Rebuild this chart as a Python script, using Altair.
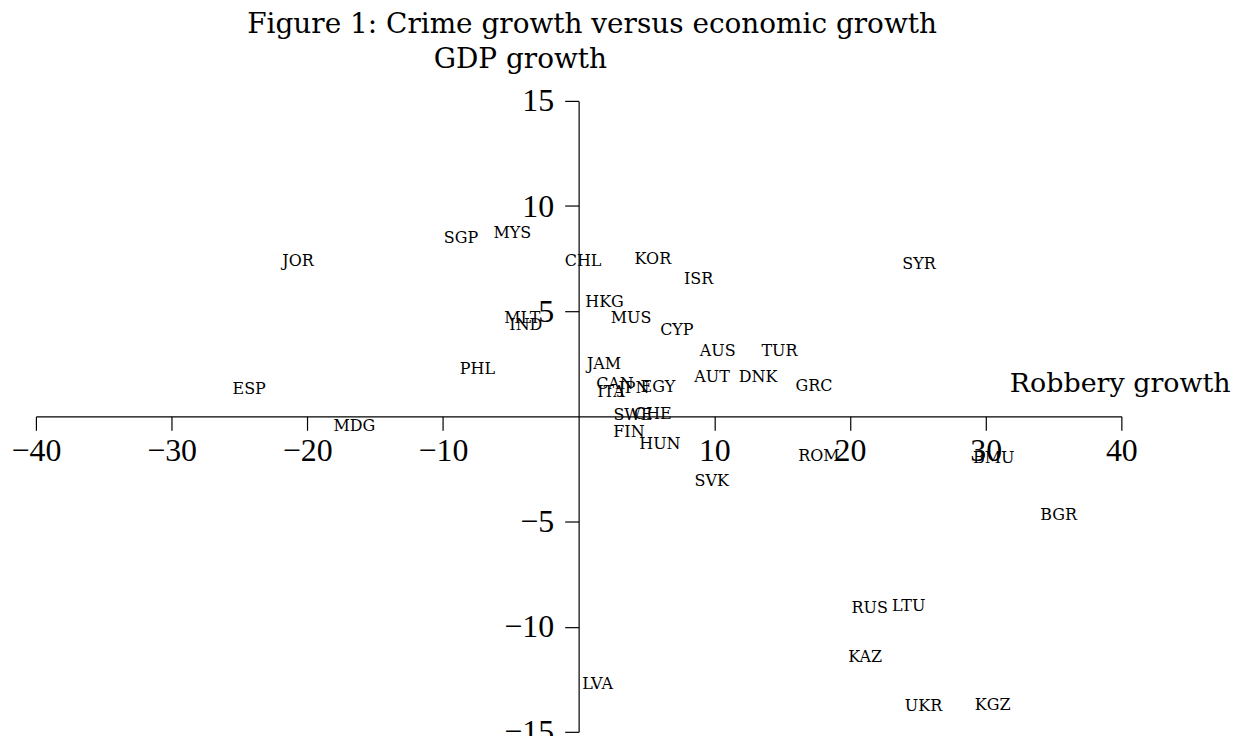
import altair as alt
import pandas as pd

# ---- data ----
codes = ["ESP", "JOR", "SGP", "MYS", "PHL", "MLT", "IND", "MDG", "LVA", "CHL",
         "KOR", "ISR", "HKG", "MUS", "CYP", "AUS", "TUR", "AUT", "DNK", "GRC",
         "JAM", "CAN", "ITA", "JPN", "EGY", "SWE", "CHE", "FIN", "HUN", "SVK",
         "ROM", "BMU", "BGR", "SYR", "RUS", "LTU", "KAZ", "UKR", "KGZ"]
robbery_growth = [-24.28, -20.68, -8.67, -4.89, -7.46, -4.15, -3.89, -16.53, 1.40, 0.33,
                  5.47, 8.84, 1.91, 3.86, 7.24, 10.25, 14.80, 9.84, 13.22, 17.35,
                  1.87, 2.68, 2.39, 4.08, 5.84, 4.00, 5.47, 3.71, 5.99, 9.81,
                  17.71, 30.60, 35.37, 25.09, 21.45, 24.33, 21.11, 25.42, 30.52]
gdp_growth = [1.30, 7.37, 8.48, 8.74, 2.25, 4.67, 4.34, -0.47, -12.75, 7.37,
              7.46, 6.53, 5.44, 4.69, 4.10, 3.12, 3.12, 1.87, 1.85, 1.45,
              2.49, 1.54, 1.16, 1.35, 1.40, 0.07, 0.12, -0.73, -1.30, -3.06,
              -1.87, -1.97, -4.67, 7.23, -9.10, -9.03, -11.42, -13.79, -13.74]

x_ticks = [-40, -30, -20, -10, 10, 20, 30, 40]
y_ticks = [-15, -10, -5, 5, 10, 15]

title_text = "Figure 1: Crime growth versus economic growth"
y_title = "GDP growth"
x_title = "Robbery growth"

W, H = 1089, 633

df = pd.DataFrame({"code": codes, "robbery": robbery_growth, "gdp": gdp_growth})

x_axis = alt.Axis(values=x_ticks, offset=-H / 2, tickSize=14, tickWidth=1.2,
                  domainWidth=1.2, domainColor="black", tickColor="black",
                  labelColor="black", labelFont="Liberation Serif", labelFontSize=32,
                  labelPadding=5, labelFlush=False, labelOverlap=False, labelBound=False,
                  grid=False, title="")
y_axis = alt.Axis(values=y_ticks, offset=-W / 2, tickSize=14, tickWidth=1.2,
                  domainWidth=1.2, domainColor="black", tickColor="black",
                  labelColor="black", labelFont="Liberation Serif", labelFontSize=32,
                  labelPadding=11, labelFlush=False, labelOverlap=False, labelBound=False,
                  labelBaseline="middle", grid=False, title="")

points = alt.Chart(df).mark_text(font="DejaVu Serif", fontSize=16, color="black",
                                 align="center", baseline="middle").encode(
    x=alt.X("robbery:Q", scale=alt.Scale(domain=[-40, 40], nice=False, zero=False), axis=x_axis),
    y=alt.Y("gdp:Q", scale=alt.Scale(domain=[-15, 15], nice=False, zero=False), axis=y_axis),
    text="code:N",
)

t1 = alt.Chart(pd.DataFrame({"t": [title_text]})).mark_text(
    font="DejaVu Serif", fontSize=28, color="black", align="center", baseline="alphabetic"
).encode(x=alt.value(558), y=alt.value(-68), text="t:N")

t2 = alt.Chart(pd.DataFrame({"t": [y_title]})).mark_text(
    font="DejaVu Serif", fontSize=28, color="black", align="center", baseline="alphabetic"
).encode(x=alt.value(486), y=alt.value(-33), text="t:N")

t3 = alt.Chart(pd.DataFrame({"t": [x_title]})).mark_text(
    font="DejaVu Serif", fontSize=27, color="black", align="left", baseline="alphabetic"
).encode(x=alt.value(977), y=alt.value(292), text="t:N")

chart = alt.layer(points, t1, t2, t3).properties(
    width=W, height=H,
    background="white",
    autosize=alt.AutoSizeParams(type="none"),
    padding={"left": 28, "top": 92, "right": 110, "bottom": 3},
).configure_view(stroke="transparent", strokeWidth=0)

chart.save("out.html", embed_options={"renderer": "svg", "actions": False})
